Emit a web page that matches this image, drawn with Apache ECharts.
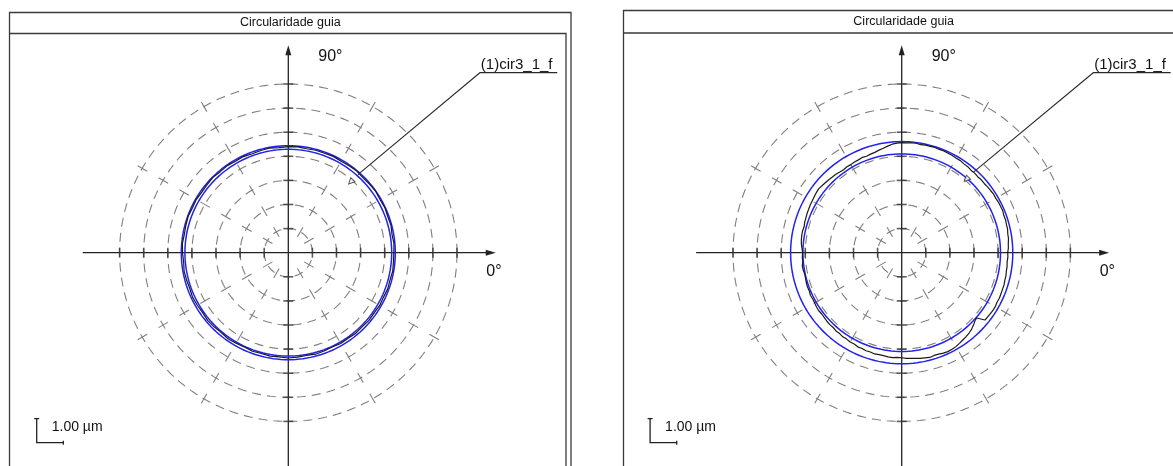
<!DOCTYPE html>
<html>
<head>
<meta charset="utf-8">
<script src="https://cdn.jsdelivr.net/npm/echarts@6/dist/echarts.min.js"></script>
<style>
  html, body { margin: 0; padding: 0; background: #ffffff; }
  #chart { width: 1173px; height: 466px; }
</style>
</head>
<body>
<div id="chart"></div>
<script>
// ---- data ---------------------------------------------------------------
// Concentric grid rings, one per micrometre of radial deviation
const RING_VALUES = [1, 2, 3, 4, 5, 6, 7];
// Directions of the dashed radial guide lines (degrees, counter-clockwise from 0°)
const RADIAL_ANGLES = [30, 60, 120, 150, 210, 240, 300, 330];
const PANEL_TITLE = 'Circularidade guia';
const PROFILE_NAME = '(1)cir3_1_f';
const SCALE_LABEL = '1.00 µm';
const ANGLE_LABELS = ['90°', '0°'];

// Inner / outer reference circles of each measurement (µm)
const LEFT_CIRCLES = [4.29, 4.44];
const RIGHT_CIRCLES = [4.10, 4.61];

// Measured profiles: [angle°, radius µm]
const LEFT_PROFILE = [
  [0, 4.38], [5, 4.40], [10, 4.37], [15, 4.41], [20, 4.39], [25, 4.42], [30, 4.40], [35, 4.43],
  [40, 4.41], [45, 4.39], [50, 4.42], [55, 4.40], [60, 4.38], [65, 4.41], [70, 4.39], [75, 4.40],
  [80, 4.38], [85, 4.41], [90, 4.40], [95, 4.38], [100, 4.41], [105, 4.39], [110, 4.37], [115, 4.40],
  [120, 4.38], [125, 4.41], [130, 4.39], [135, 4.42], [140, 4.40], [145, 4.38], [150, 4.41], [155, 4.39],
  [160, 4.42], [165, 4.40], [170, 4.38], [175, 4.41], [180, 4.39], [185, 4.36], [190, 4.39], [195, 4.37],
  [200, 4.35], [205, 4.38], [210, 4.36], [215, 4.34], [220, 4.37], [225, 4.35], [230, 4.33], [235, 4.36],
  [240, 4.34], [245, 4.32], [250, 4.35], [255, 4.33], [260, 4.36], [265, 4.34], [270, 4.37], [275, 4.35],
  [280, 4.33], [285, 4.36], [290, 4.34], [295, 4.32], [300, 4.35], [305, 4.33], [310, 4.36], [315, 4.34],
  [320, 4.37], [325, 4.35], [330, 4.38], [335, 4.36], [340, 4.39], [345, 4.37], [350, 4.40], [355, 4.38],
  [360, 4.38]
];
const RIGHT_PROFILE = [
  [0, 4.40], [2.5, 4.43], [5, 4.44], [7.5, 4.47], [10, 4.47], [12.5, 4.50], [15, 4.50], [17.5, 4.52],
  [20, 4.51], [22.5, 4.54], [25, 4.53], [27.5, 4.53], [30, 4.51], [32.5, 4.52], [35, 4.50], [37.5, 4.49],
  [40, 4.47], [42.5, 4.48], [45, 4.46], [47.5, 4.48], [50, 4.47], [52.5, 4.50], [55, 4.50], [57.5, 4.53],
  [60, 4.53], [62.5, 4.55], [65, 4.55], [67.5, 4.57], [70, 4.56], [72.5, 4.58], [75, 4.57], [77.5, 4.57],
  [80, 4.55], [82.5, 4.58], [85, 4.58], [87.5, 4.56], [90, 4.57], [92.5, 4.55], [95, 4.52], [97.5, 4.46],
  [100, 4.40], [102.5, 4.36], [105, 4.31], [107.5, 4.29], [110, 4.26], [112.5, 4.28], [115, 4.25], [117.5, 4.24],
  [120, 4.22], [122.5, 4.23], [125, 4.20], [127.5, 4.22], [130, 4.25], [132.5, 4.26], [135, 4.28], [137.5, 4.30],
  [140, 4.32], [142.5, 4.35], [145, 4.33], [147.5, 4.31], [150, 4.29], [152.5, 4.28], [155, 4.26], [157.5, 4.25],
  [160, 4.23], [162.5, 4.22], [165, 4.19], [167.5, 4.21], [170, 4.21], [172.5, 4.20], [175, 4.18], [177.5, 4.14],
  [180, 4.11], [182.5, 4.13], [185, 4.12], [187.5, 4.16], [190, 4.15], [192.5, 4.12], [195, 4.13], [197.5, 4.15],
  [200, 4.16], [202.5, 4.15], [205, 4.18], [207.5, 4.16], [210, 4.17], [212.5, 4.19], [215, 4.20], [217.5, 4.18],
  [220, 4.19], [222.5, 4.21], [225, 4.22], [227.5, 4.21], [230, 4.24], [232.5, 4.23], [235, 4.26], [237.5, 4.25],
  [240, 4.28], [242.5, 4.27], [245, 4.31], [247.5, 4.30], [250, 4.33], [252.5, 4.32], [255, 4.35], [257.5, 4.33],
  [260, 4.34], [262.5, 4.36], [265, 4.37], [267.5, 4.35], [270, 4.36], [272.5, 4.39], [275, 4.40], [277.5, 4.42],
  [280, 4.45], [282.5, 4.47], [285, 4.50], [287.5, 4.47], [290, 4.48], [292.5, 4.51], [295, 4.53], [297.5, 4.52],
  [300, 4.50], [302.5, 4.46], [305, 4.42], [307.5, 4.39], [310, 4.35], [312.5, 4.30], [315, 4.22], [317.5, 4.14],
  [319, 4.13], [321, 4.44], [322.5, 4.45], [325, 4.46], [327.5, 4.48], [330, 4.48], [332.5, 4.46], [335, 4.47],
  [337.5, 4.46], [340, 4.45], [342.5, 4.45], [345, 4.43], [347.5, 4.43], [350, 4.41], [352.5, 4.41], [355, 4.39],
  [357.5, 4.41], [360, 4.40]
];

// ---- layout ---------------------------------------------------------------
const UNIT_PX = 24.1;                 // pixels per micrometre ring
const R_AXIS_MAX = 14;                // radius axis span, wide enough for the callout and axes
const CENTERS = [[288.3, 252.7], [901.7, 252.7]];
const PANELS = [
  { circles: LEFT_CIRCLES, profile: LEFT_PROFILE, anchorR: 4.34, frame: { x: 9.5, y: 12.5, right: 571, inner: 566, band: 33.5 } },
  { circles: RIGHT_CIRCLES, profile: RIGHT_PROFILE, anchorR: 4.48, frame: { x: 623.5, y: 10.5, right: 1190, inner: 1185, band: 33 } }
];

const GRID_GRAY = '#7f7f7f';
const AXIS_DARK = '#222222';
const BLUE = '#2222ee';
const FRAME = '#3a3a3a';
const FONT = 'Liberation Sans, Arial, sans-serif';

const chart = echarts.init(document.getElementById('chart'), null, { renderer: 'canvas' });

const polar = [], angleAxis = [], radiusAxis = [], series = [], graphic = [];

function circlePoints(r) {
  const pts = [];
  for (let a = 0; a <= 360; a += 1) pts.push([r, a]);
  return pts;
}

function polarLine(i, data, lineStyle, z, extra) {
  return Object.assign({
    type: 'line', coordinateSystem: 'polar', polarIndex: i, silent: true, clip: false,
    symbol: 'none', data, lineStyle, z
  }, extra || {});
}

PANELS.forEach((p, i) => {
  const c = CENTERS[i];
  polar.push({ center: c, radius: UNIT_PX * R_AXIS_MAX });
  angleAxis.push({
    polarIndex: i, type: 'value', min: 0, max: 360, startAngle: 0, clockwise: false,
    axisLine: { show: false }, axisTick: { show: false }, axisLabel: { show: false },
    splitLine: { show: false }, splitArea: { show: false }
  });
  radiusAxis.push({
    polarIndex: i, type: 'value', min: 0, max: R_AXIS_MAX, interval: 1,
    axisLine: { show: false }, axisTick: { show: false }, axisLabel: { show: false },
    splitLine: { show: false }, splitArea: { show: false }
  });

  // dashed grid rings
  RING_VALUES.forEach(v => {
    series.push(polarLine(i, circlePoints(v), { color: GRID_GRAY, width: 1.1, type: [9, 6] }, 1));
  });

  // dashed radial guides
  RADIAL_ANGLES.forEach(a => {
    series.push(polarLine(i, [[0.76, a], [7.75, a]], { color: GRID_GRAY, width: 1.1, type: [11, 13.1] }, 1));
  });

  // main axes with arrow heads
  series.push(polarLine(i, [
    { value: [8.53, 180], symbol: 'none' },
    { value: [8.4, 0], symbol: 'triangle', symbolSize: [6, 10], symbolRotate: -90 }
  ], { color: AXIS_DARK, width: 1.3 }, 3, { showSymbol: true, showAllSymbol: true, itemStyle: { color: AXIS_DARK } }));
  series.push(polarLine(i, [
    { value: [9.5, 270], symbol: 'none' },
    { value: [8.4, 90], symbol: 'triangle', symbolSize: [6, 10], symbolRotate: 0 }
  ], { color: AXIS_DARK, width: 1.3 }, 3, { showSymbol: true, showAllSymbol: true, itemStyle: { color: AXIS_DARK } }));

  // ring ticks along the axes
  series.push({
    type: 'scatter', coordinateSystem: 'polar', polarIndex: i, silent: true,
    symbol: 'rect', symbolSize: [1.6, 10],
    data: RING_VALUES.flatMap(v => [[v, 0], [v, 180]]),
    itemStyle: { color: '#333' }, z: 3
  });
  series.push({
    type: 'scatter', coordinateSystem: 'polar', polarIndex: i, silent: true,
    symbol: 'rect', symbolSize: [10, 1.6],
    data: RING_VALUES.flatMap(v => [[v, 90], [v, 270]]),
    itemStyle: { color: '#333' }, z: 3
  });

  // reference circles
  p.circles.forEach(r => {
    series.push(polarLine(i, circlePoints(r), { color: BLUE, width: 1.5 }, 4));
  });

  // measured profile
  series.push(polarLine(i, p.profile.map(d => [d[1], d[0]]), { color: '#1a1a1a', width: 1.2 }, 5,
    { name: PROFILE_NAME }));

  // callout leader with its marker
  series.push(polarLine(i, [[p.anchorR, 48.3], [10.92, 43.2], [13.43, 33.8]],
    { color: '#2a2a2a', width: 1.1 }, 6));
  series.push({
    type: 'scatter', coordinateSystem: 'polar', polarIndex: i, silent: true,
    symbol: 'triangle', symbolSize: 6, symbolRotate: 135,
    data: [[p.anchorR - 0.42, 48.6]],
    itemStyle: { color: '#ffffff', borderColor: '#2a2a2a', borderWidth: 1 }, z: 6
  });

  // panel frame and title band
  const f = p.frame;
  graphic.push({
    type: 'polyline', silent: true,
    shape: { points: [[f.x, 480], [f.x, f.y], [f.right, f.y], [f.right, 480]] },
    style: { stroke: FRAME, lineWidth: 1.3, fill: null }
  });
  graphic.push({
    type: 'polyline', silent: true,
    shape: { points: [[f.x, f.band], [f.inner, f.band], [f.inner, 480]] },
    style: { stroke: FRAME, lineWidth: 1.3, fill: null }
  });
  graphic.push({
    type: 'text', silent: true, x: c[0] + 2, y: (f.y + f.band) / 2,
    style: { text: PANEL_TITLE, font: '12.5px ' + FONT, fill: '#111', align: 'center', verticalAlign: 'middle' }
  });

  // axis direction labels
  graphic.push({
    type: 'text', silent: true, x: c[0] + 30, y: c[1] - 196,
    style: { text: ANGLE_LABELS[0], font: '16px ' + FONT, fill: '#111', align: 'left', verticalAlign: 'middle' }
  });
  graphic.push({
    type: 'text', silent: true, x: c[0] + 198, y: c[1] + 19,
    style: { text: ANGLE_LABELS[1], font: '16px ' + FONT, fill: '#111', align: 'left', verticalAlign: 'middle' }
  });

  // callout text sitting on the underline
  graphic.push({
    type: 'text', silent: true, x: c[0] + 192.5, y: c[1] - 180.5,
    style: { text: PROFILE_NAME, font: '15px ' + FONT, fill: '#111', align: 'left', verticalAlign: 'bottom' }
  });

  // 1 µm scale bar
  const sx = c[0] - 251.6, sy = c[1] + 190;
  graphic.push({
    type: 'polyline', silent: true,
    shape: { points: [[sx, sy - UNIT_PX], [sx, sy], [sx + 26.6, sy]] },
    style: { stroke: '#222', lineWidth: 1.3, fill: null }
  });
  graphic.push({
    type: 'line', silent: true,
    shape: { x1: sx - 2.5, y1: sy - UNIT_PX, x2: sx + 2.5, y2: sy - UNIT_PX },
    style: { stroke: '#222', lineWidth: 1.3 }
  });
  graphic.push({
    type: 'line', silent: true,
    shape: { x1: sx + 26.6, y1: sy - 2, x2: sx + 26.6, y2: sy + 2 },
    style: { stroke: '#222', lineWidth: 1.3 }
  });
  graphic.push({
    type: 'text', silent: true, x: sx + 15, y: sy - 16,
    style: { text: SCALE_LABEL, font: '14px ' + FONT, fill: '#111', align: 'left', verticalAlign: 'middle' }
  });
});

chart.setOption({
  animation: false,
  backgroundColor: '#ffffff',
  polar, angleAxis, radiusAxis, series, graphic
});
</script>
</body>
</html>
